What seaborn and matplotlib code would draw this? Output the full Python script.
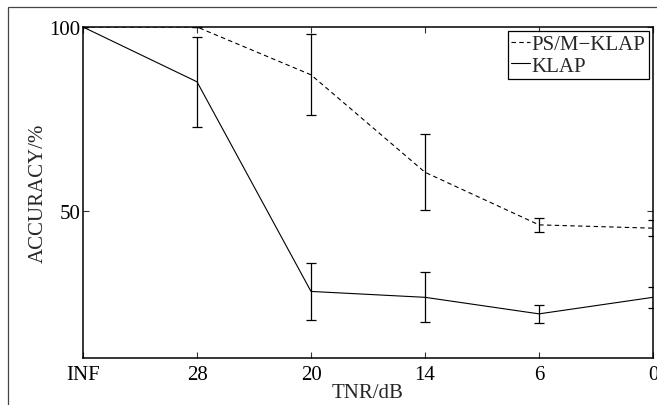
import matplotlib
matplotlib.use("Agg")
import matplotlib.pyplot as plt
import seaborn as sns
import pandas as pd
import numpy as np
from matplotlib.patches import Rectangle
from matplotlib.lines import Line2D

# TNR levels (categorical, evenly spaced)
tnr_labels = ["INF", "28", "20", "14", "6", "0"]

# Mean accuracy (%) per method
psm_klap = [100, 100, 87.0, 60.5, 46.2, 45.3]
klap = [100, 85.1, 28.1, 26.5, 22.0, 26.5]

# Half-width of error bars (%)
psm_klap_err = [0, 0, 11.0, 10.3, 2.0, 2.1]
klap_err = [0, 12.3, 7.7, 6.8, 2.5, 2.9]

sns.set_theme(style="white")
plt.rcParams["font.family"] = ["Liberation Serif", "DejaVu Serif"]

pos = np.arange(len(tnr_labels))
df = pd.DataFrame({
    "pos": np.concatenate([pos, pos]),
    "acc": psm_klap + klap,
    "method": ["PS/M\u2212KLAP"] * len(pos) + ["KLAP"] * len(pos),
})

fig = plt.figure(figsize=(6.57, 4.06), dpi=100)
fig.patch.set_facecolor("white")

# thin frame around the figure
fig.patches.append(Rectangle((8 / 657, -0.05), 1.2, 1 - 8 / 406 + 0.05,
                             transform=fig.transFigure, fill=False,
                             edgecolor="#444444", linewidth=0.9, zorder=0))

ax = fig.add_axes([83 / 657, 1 - 359 / 406, (653 - 83) / 657, (359 - 28) / 406])

sns.lineplot(data=df, x="pos", y="acc", hue="method", style="method",
             palette={"PS/M\u2212KLAP": "black", "KLAP": "black"},
             dashes={"PS/M\u2212KLAP": (4, 3), "KLAP": ""},
             linewidth=0.8, ax=ax, legend=False)

ax.errorbar(pos, psm_klap, yerr=psm_klap_err, fmt="none", ecolor="black",
            elinewidth=0.9, capsize=3.6, capthick=0.9, zorder=3)
ax.errorbar(pos, klap, yerr=klap_err, fmt="none", ecolor="black",
            elinewidth=0.9, capsize=3.6, capthick=0.9, zorder=3)

ax.set_xlim(0, len(pos) - 1)
ax.set_ylim(10, 100)
ax.set_xticks(pos)
ax.set_xticklabels(tnr_labels)
ax.set_yticks([50, 100])
ax.set_yticklabels(["50", "100"])

for sp in ax.spines.values():
    sp.set_visible(True)
    sp.set_color("black")
    sp.set_linewidth(1.1)

ax.tick_params(axis="both", direction="in", length=4, width=0.8, color="#333333",
               labelsize=15, top=True, right=True, bottom=True, left=True,
               labelcolor="black")
ax.tick_params(axis="x", pad=5)
ax.tick_params(axis="y", pad=2)

ax.set_xlabel("TNR/dB", fontsize=15, labelpad=-1)
ax.set_ylabel("ACCURACY/%", fontsize=15, labelpad=1)

# legend drawn by hand so the handles match the plotted styles
handles = [Line2D([], [], color="black", lw=0.8, dashes=(4, 3)),
           Line2D([], [], color="black", lw=0.8)]
leg = ax.legend(handles, ["PS/M\u2212KLAP", "KLAP"], loc="upper right",
                fontsize=15, frameon=True, fancybox=False, edgecolor="black",
                handlelength=0.9, handletextpad=0.1, borderpad=0.15,
                labelspacing=0.1, borderaxespad=0.2, framealpha=1)
leg.get_frame().set_linewidth(0.9)

fig.savefig("out.png", dpi=100)
